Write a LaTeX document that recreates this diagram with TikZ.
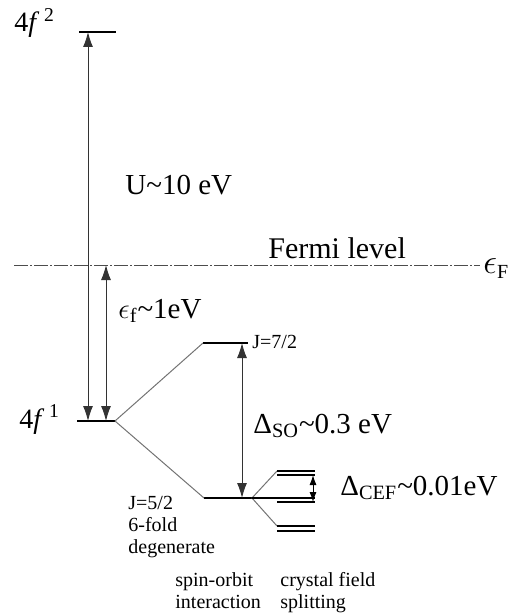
\documentclass[tikz,border=0pt]{standalone}
\usepackage{fontspec}
\setmainfont{Liberation Serif}
\usetikzlibrary{arrows.meta}

\begin{document}
\begin{tikzpicture}[
    x=0.5pt, y=-0.5pt,
    big/.style={inner sep=0pt, anchor=base west, font=\fontsize{14.5}{17}\selectfont},
    conf/.style={inner sep=0pt, anchor=base west, font=\fontsize{14}{16}\selectfont},
    small/.style={inner sep=0pt, anchor=base west, align=left, font=\fontsize{10}{10.8}\selectfont},
    level/.style={line width=0.6pt},
    branch/.style={black!55, line width=0.5pt},
    gap/.style={{Latex[length=7.5pt,width=5pt]}-{Latex[length=7.5pt,width=5pt]}, line width=0.5pt, black!80},
    cef/.style={{Latex[length=5pt,width=3.5pt]}-{Latex[length=5pt,width=3.5pt]}, line width=0.5pt},
    fermi/.style={black!70, line width=0.5pt, dash pattern=on 7pt off 1pt on 1pt off 1pt}
  ]
  \useasboundingbox (0,0) rectangle (513,615);

  % levels
  \coordinate (f2a) at (79,32);   \coordinate (f2b) at (116,32);
  \coordinate (f1a) at (77,421);  \coordinate (f1b) at (115,421);
  \coordinate (j7a) at (203,343); \coordinate (j7b) at (248,343);
  \coordinate (j5a) at (204,498); \coordinate (j5b) at (252,498);
  \coordinate (efl) at (14,265);  \coordinate (efr) at (480,265);
  \draw[level] (f2a) -- (f2b);
  \draw[level] (f1a) -- (f1b);
  \draw[level] (j7a) -- (j7b);
  \draw[level] (j5a) -- (j5b);
  \draw[fermi] (efl) -- (efr);

  % spin-orbit splitting
  \draw[branch] (f1b) -- (j7a);
  \draw[branch] (f1b) -- (j5a);

  % crystal field doublets
  \coordinate (c1) at (277,471); \coordinate (c2) at (277,526);
  \draw[branch] (j5b) -- (c1);
  \draw[branch] (j5b) -- (c2);
  \draw[level] (c1) -- (315,471) (277,475) -- (315,475);
  \draw[level] (j5b) -- (315,498) (277,502) -- (315,502);
  \draw[level] (c2) -- (315,526) (277,531) -- (315,531);

  % energy gaps
  \coordinate (u0) at (88,421);   \coordinate (u1) at (88,32);
  \coordinate (e0) at (106,421);  \coordinate (e1) at (106,265);
  \coordinate (s0) at (242,498);  \coordinate (s1) at (242,343);
  \coordinate (k0) at (313,502);  \coordinate (k1) at (313,475);
  \draw[gap] (u0) -- (u1);
  \draw[gap] (e0) -- (e1);
  \draw[gap] (s0) -- (s1);
  \draw[cef] (k0) -- (k1);

  % labels
  \node[conf] (lf2) at (14,32) {4\textit{f}\,\textsuperscript{2}};
  \node[conf] (lf1) at (19,428) {4\textit{f}\,\textsuperscript{1}};
  \node[big] (lu) at (125,194) {U\textasciitilde10 eV};
  \node[big] (lfermi) at (268,258) {\fontsize{15}{17}\selectfont Fermi level};
  \node[big] (lef) at (483,273) {\fontsize{17}{19}\selectfont$\epsilon$\textsubscript{\fontsize{10}{12}\selectfont F}};
  \node[big] (lepsf) at (118,318) {$\epsilon$\textsubscript{f}\textasciitilde1eV};
  \node[big] (lso) at (253,433) {Δ\textsubscript{SO}\textasciitilde0.3 eV};
  \node[big] (lcef) at (340,495) {Δ\textsubscript{CEF}\textasciitilde0.01eV};
  \node[small] (lj7) at (252,348) {J=7/2};
  \node[small] (lj5) at (128,553) {J=5/2\\6-fold\\degenerate};
  \node[small] (lsoi) at (175,608) {spin-orbit\\interaction};
  \node[small] (lcfs) at (280,608) {crystal field\\splitting};
\end{tikzpicture}
\end{document}
